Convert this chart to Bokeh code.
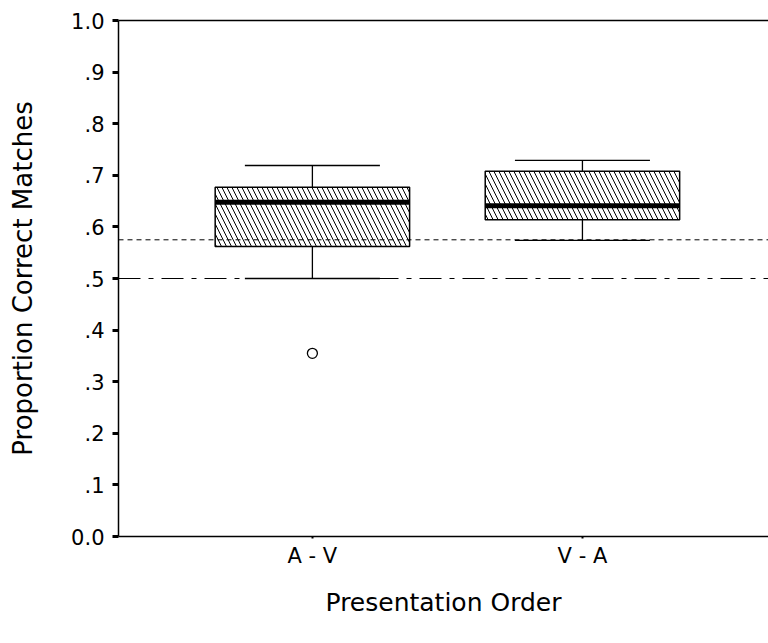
from bokeh.plotting import figure
from bokeh.models import FixedTicker, LinearAxis, Span
from bokeh.embed import file_html
from bokeh.resources import INLINE

# Data
categories = ["A - V", "V - A"]
positions = [1, 2]
q1 = [0.562, 0.614]
median = [0.648, 0.641]
q3 = [0.677, 0.708]
whisker_low = [0.500, 0.574]
whisker_high = [0.719, 0.729]
outlier_x = [1]
outlier_y = [0.355]
chance_line = 0.5
threshold_line = 0.575
y_ticks = [0.0, 0.1, 0.2, 0.3, 0.4, 0.5, 0.6, 0.7, 0.8, 0.9, 1.0]
y_tick_labels = ["0.0", ".1", ".2", ".3", ".4", ".5", ".6", ".7", ".8", ".9", "1.0"]

FONT = "DejaVu Sans"

p = figure(width=768, height=643, output_backend="svg", toolbar_location=None,
           x_range=(0.282, 2.689), y_range=(0.0, 1.0),
           min_border_left=118, min_border_right=0, min_border_top=20,
           min_border_bottom=107)
p.outline_line_color = None
p.grid.visible = False
p.background_fill_color = "white"
p.border_fill_color = "white"

# reference lines
p.add_layout(Span(location=threshold_line, dimension="width", line_color="black",
                  line_width=1, line_dash="5 4"))
p.add_layout(Span(location=chance_line, dimension="width", line_color="black",
                  line_width=1.2, line_dash="22 8 5 8"))

box_w = 0.72
cap_w = 0.5
# whiskers
p.segment(x0=positions, y0=q3, x1=positions, y1=whisker_high, line_color="black", line_width=1.3)
p.segment(x0=positions, y0=q1, x1=positions, y1=whisker_low, line_color="black", line_width=1.3)
p.segment(x0=[x - cap_w / 2 for x in positions], y0=whisker_high,
          x1=[x + cap_w / 2 for x in positions], y1=whisker_high, line_color="black", line_width=1.3)
p.segment(x0=[x - cap_w / 2 for x in positions], y0=whisker_low,
          x1=[x + cap_w / 2 for x in positions], y1=whisker_low, line_color="black", line_width=1.3)
# boxes
p.vbar(x=positions, width=box_w, bottom=q1, top=q3, fill_color="white",
       line_color="black", line_width=1.5, hatch_pattern="\\", hatch_color="black",
       hatch_scale=10, hatch_weight=1)
# medians
p.segment(x0=[x - box_w / 2 for x in positions], y0=median,
          x1=[x + box_w / 2 for x in positions], y1=median, line_color="black", line_width=5)
# outlier
p.scatter(outlier_x, outlier_y, size=10, marker="circle", fill_color="white",
          line_color="black", line_width=1.3)

# axes
ya = p.yaxis[0]
ya.ticker = FixedTicker(ticks=y_ticks)
ya.major_label_overrides = {t: l for t, l in zip(y_ticks, y_tick_labels)}
ya.minor_tick_line_color = None
ya.major_tick_out = 6
ya.major_tick_in = 0
ya.major_tick_line_width = 3
ya.axis_line_width = 1.5
ya.major_label_text_font = FONT
ya.major_label_text_font_size = "21px"
ya.major_label_text_color = "black"
ya.major_label_standoff = 8
ya.axis_label = "Proportion Correct Matches"
ya.axis_label_text_font = FONT
ya.axis_label_text_font_size = "26px"
ya.axis_label_text_font_style = "normal"
ya.axis_label_text_color = "black"
ya.axis_label_standoff = 30

xa = p.xaxis[0]
xa.ticker = FixedTicker(ticks=positions)
xa.major_label_overrides = {x: c for x, c in zip(positions, categories)}
xa.minor_tick_line_color = None
xa.major_tick_out = 2
xa.major_tick_in = 0
xa.major_tick_line_width = 2
xa.axis_line_width = 1.5
xa.major_label_text_font = FONT
xa.major_label_text_font_size = "21px"
xa.major_label_text_color = "black"
xa.major_label_standoff = 5
xa.axis_label = "Presentation Order"
xa.axis_label_text_font = FONT
xa.axis_label_text_font_size = "25px"
xa.axis_label_text_font_style = "normal"
xa.axis_label_text_color = "black"
xa.axis_label_standoff = 17

top = LinearAxis(ticker=FixedTicker(ticks=[]), major_label_text_font_size="0px",
                 axis_line_width=1.5, minor_tick_line_color=None, major_tick_line_color=None)
p.add_layout(top, "above")

open("out.html", "w").write(file_html(p, INLINE))
